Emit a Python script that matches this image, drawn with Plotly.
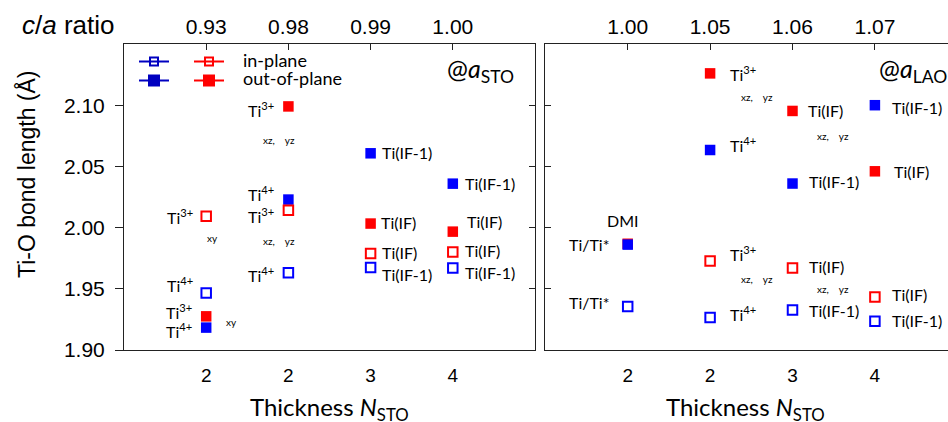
import plotly.graph_objects as go

# ---------------- data ----------------
positions = [1, 2, 3, 4]
thickness_labels = ['2', '2', '3', '4']
ca_sto_labels = ['0.93', '0.98', '0.99', '1.00']
ca_lao_labels = ['1.00', '1.05', '1.06', '1.07']
y_ticks = [1.90, 1.95, 2.00, 2.05, 2.10]

# @a_STO panel
sto_in_red = [2.0092, 2.0141, 1.9788, 1.9800]
sto_in_blue = [1.9466, 1.9632, 1.9673, 1.9670]
sto_out_red = [1.9275, 2.0990, 2.0033, 1.9967]
sto_out_blue = [1.9183, 2.0229, 2.0607, 2.0359]

# @a_LAO panel
lao_in_red = [None, 1.9727, 1.9670, 1.9433]
lao_in_blue = [1.9355, 1.9265, 1.9327, 1.9234]
lao_out_red = [1.9868, 2.1260, 2.0953, 2.0460]
lao_out_blue = [1.9861, 2.0634, 2.0360, 2.1000]

legend_names = ['in-plane', 'out-of-plane']

# labels: (position, y, text, anchor, pixel shift)
sto_labels = [
    (1, 2.0092, 'Ti<sup>3+</sup>', 'right', -11),
    (1, 1.9537, 'Ti<sup>4+</sup>', 'right', -11),
    (1, 1.9314, 'Ti<sup>3+</sup>', 'right', -12),
    (1, 1.9161, 'Ti<sup>4+</sup>', 'right', -12),
    (2, 2.0966, 'Ti<sup>3+</sup>', 'right', -12),
    (2, 2.0278, 'Ti<sup>4+</sup>', 'right', -12),
    (2, 2.0095, 'Ti<sup>3+</sup>', 'right', -12),
    (2, 1.9618, 'Ti<sup>4+</sup>', 'right', -12),
    (3, 2.0613, 'Ti(IF-1)', 'left', 9),
    (3, 2.0041, 'Ti(IF)', 'left', 8),
    (3, 1.9800, 'Ti(IF)', 'left', 9),
    (3, 1.9618, 'Ti(IF-1)', 'left', 9),
    (4, 2.0359, 'Ti(IF-1)', 'left', 10),
    (4, 2.0046, 'Ti(IF)', 'left', 12),
    (4, 1.9815, 'Ti(IF)', 'left', 10),
    (4, 1.9632, 'Ti(IF-1)', 'left', 10),
]
sto_orbitals = [
    (1, 1.9913, 'xy', 6),
    (1, 1.9229, 'xy', 25),
    (2, 2.0712, 'xz,&nbsp;&nbsp;&nbsp;&nbsp;yz', -9),
    (2, 1.9890, 'xz,&nbsp;&nbsp;&nbsp;&nbsp;yz', -9),
]
lao_labels = [
    (1, 2.0054, 'DMI', 'center', -5),
    (1, 1.9864, 'Ti/Ti*', 'right', -16),
    (1, 1.9387, 'Ti/Ti*', 'right', -16),
    (2, 2.1261, 'Ti<sup>3+</sup>', 'left', 18),
    (2, 2.0681, 'Ti<sup>4+</sup>', 'left', 18),
    (2, 1.9790, 'Ti<sup>3+</sup>', 'left', 18),
    (2, 1.9300, 'Ti<sup>4+</sup>', 'left', 18),
    (3, 2.0953, 'Ti(IF)', 'left', 13),
    (3, 2.0373, 'Ti(IF-1)', 'left', 14),
    (3, 1.9686, 'Ti(IF)', 'left', 14),
    (3, 1.9319, 'Ti(IF-1)', 'left', 14),
    (4, 2.0980, 'Ti(IF-1)', 'left', 15),
    (4, 2.0462, 'Ti(IF)', 'left', 17),
    (4, 1.9455, 'Ti(IF)', 'left', 15),
    (4, 1.9237, 'Ti(IF-1)', 'left', 15),
]
lao_orbitals = [
    (2, 2.1067, 'xz,&nbsp;&nbsp;&nbsp;&nbsp;yz', 47),
    (2, 1.9578, 'xz,&nbsp;&nbsp;&nbsp;&nbsp;yz', 47),
    (3, 2.0748, 'xz,&nbsp;&nbsp;&nbsp;&nbsp;yz', 40),
    (3, 1.9496, 'xz,&nbsp;&nbsp;&nbsp;&nbsp;yz', 40),
]

# ---------------- style ----------------
RED = '#ff0000'
BLUE = '#0000ff'
LEG_BLUE = '#0000c0'
ARIAL = 'Liberation Sans, Arial, sans-serif'
CAL = 'Lato, Carlito, Calibri, sans-serif'
W, H = 948, 422
ML, MT, MB = 124, 44, 72
PW = W - ML
PH = H - MT - MB
left_dom = [0, (535 - ML) / PW]
right_dom = [(545.3 - ML) / PW, 1]
right_max = (W - 545.3) / 82.4


def px_x(p):
    return (p - ML) / PW


def px_y(p):
    return (MT + PH - p) / PH


fig = go.Figure()


def open_sq(color):
    return dict(symbol='square-open', size=9.5, color=color, line=dict(color=color, width=2))


def filled_sq(color):
    return dict(symbol='square', size=10.5, color=color, line=dict(width=0))


panels = [
    ('x', 'y', sto_in_red, sto_in_blue, sto_out_red, sto_out_blue),
    ('x2', 'y2', lao_in_red, lao_in_blue, lao_out_red, lao_out_blue),
]
for xa, ya, ir, ib, orr, ob in panels:
    fig.add_trace(go.Scatter(x=positions, y=orr, mode='markers', marker=filled_sq(RED),
                             xaxis=xa, yaxis=ya, showlegend=False, cliponaxis=False))
    fig.add_trace(go.Scatter(x=positions, y=ob, mode='markers', marker=filled_sq(BLUE),
                             xaxis=xa, yaxis=ya, showlegend=False, cliponaxis=False))
    fig.add_trace(go.Scatter(x=positions, y=ir, mode='markers', marker=open_sq(RED),
                             xaxis=xa, yaxis=ya, showlegend=False, cliponaxis=False))
    fig.add_trace(go.Scatter(x=positions, y=ib, mode='markers', marker=open_sq(BLUE),
                             xaxis=xa, yaxis=ya, showlegend=False, cliponaxis=False))

# legend entries (legend-only traces); names are written as annotations beside them
for lg, col in (('legend', LEG_BLUE), ('legend2', RED)):
    fig.add_trace(go.Scatter(x=[None], y=[None], mode='lines+markers', name=' ',
                             line=dict(color=col, width=2),
                             marker=dict(symbol='square-open', size=8, color=col, line=dict(color=col, width=2)),
                             legend=lg))
    fig.add_trace(go.Scatter(x=[None], y=[None], mode='lines+markers', name=' ',
                             line=dict(color=col, width=2),
                             marker=dict(symbol='square', size=12, color=col),
                             legend=lg))

# helper traces so the extra frame axes exist
fig.add_trace(go.Scatter(x=[None], y=[None], xaxis='x3', yaxis='y', showlegend=False))
fig.add_trace(go.Scatter(x=[None], y=[None], xaxis='x4', yaxis='y2', showlegend=False))
fig.add_trace(go.Scatter(x=[None], y=[None], xaxis='x', yaxis='y3', showlegend=False))

annotations = []
for lst, xr, yr in [(sto_labels, 'x', 'y'), (lao_labels, 'x2', 'y2')]:
    for p, yv, txt, anc, sh in lst:
        annotations.append(dict(x=p, y=yv, xref=xr, yref=yr, text=txt, showarrow=False,
                                xanchor=anc, yanchor='middle', xshift=sh,
                                font=dict(family=CAL, size=16, color='black')))
for lst, xr, yr in [(sto_orbitals, 'x', 'y'), (lao_orbitals, 'x2', 'y2')]:
    for p, yv, txt, sh in lst:
        annotations.append(dict(x=p, y=yv, xref=xr, yref=yr, text=txt, showarrow=False,
                                xanchor='center', yanchor='middle', xshift=sh,
                                font=dict(family=CAL, size=10, color='black')))

# legend texts
for i, nm in enumerate(legend_names):
    annotations.append(dict(x=px_x(241), y=px_y(60 + 18 * i), xref='paper', yref='paper', text=nm,
                            showarrow=False, xanchor='left', yanchor='middle',
                            font=dict(family=CAL, size=18, color='black')))

# panel tags
annotations.append(dict(x=3.908, y=2.129, xref='x', yref='y', text='@<i>a</i><sub>STO</sub>',
                        showarrow=False, xanchor='left', yanchor='middle',
                        font=dict(family=CAL, size=25, color='black')))
annotations.append(dict(x=4.022, y=2.129, xref='x2', yref='y2', text='@<i>a</i><sub>LAO</sub>',
                        showarrow=False, xanchor='left', yanchor='middle',
                        font=dict(family=CAL, size=25, color='black')))

# axis titles
annotations.append(dict(x=px_x(26), y=px_y(174), xref='paper', yref='paper',
                        text='Ti-O bond length (Å)', textangle=-90, showarrow=False,
                        xanchor='center', yanchor='middle',
                        font=dict(family=ARIAL, size=23, color='black')))
for cx in (329, 745):
    annotations.append(dict(x=px_x(cx), y=px_y(408), xref='paper', yref='paper',
                            text='Thickness <i>N</i><sub>STO</sub>', showarrow=False,
                            xanchor='center', yanchor='middle',
                            font=dict(family=CAL, size=24, color='black')))
annotations.append(dict(x=px_x(68), y=px_y(25), xref='paper', yref='paper',
                        text='<i>c</i>/<i>a</i> ratio', showarrow=False,
                        xanchor='center', yanchor='middle',
                        font=dict(family=ARIAL, size=26, color='black')))

axis_common = dict(showgrid=False, zeroline=False, showline=True, linecolor='#222', linewidth=1)
tickfont = dict(family=ARIAL, size=21, color='black')
bottomfont = dict(family=ARIAL, size=19, color='black')

fig.update_layout(
    width=W, height=H,
    margin=dict(l=ML, r=0, t=MT, b=MB, pad=0),
    paper_bgcolor='white', plot_bgcolor='white',
    showlegend=True,
    xaxis=dict(domain=left_dom, range=[0, 5], anchor='y', tickmode='array', tickvals=positions,
               ticktext=thickness_labels, ticks='', tickfont=bottomfont,
               ticklabelstandoff=8, **axis_common),
    xaxis2=dict(domain=right_dom, range=[0, right_max], anchor='y2', tickmode='array', tickvals=positions,
                ticktext=thickness_labels, ticks='', tickfont=bottomfont,
                ticklabelstandoff=8, **axis_common),
    xaxis3=dict(overlaying='x', side='top', anchor='y', range=[0, 5], tickmode='array', tickvals=positions,
                ticktext=ca_sto_labels, ticks='inside', ticklen=6, tickcolor='#222', tickfont=tickfont,
                ticklabelstandoff=1, **axis_common),
    xaxis4=dict(overlaying='x2', side='top', anchor='y2', range=[0, right_max], tickmode='array',
                tickvals=positions, ticktext=ca_lao_labels, ticks='inside', ticklen=6, tickcolor='#222',
                tickfont=tickfont, ticklabelstandoff=1, **axis_common),
    yaxis=dict(domain=[0, 1], range=[1.90, 2.15], anchor='x', tickmode='array', tickvals=y_ticks,
               tickformat='.2f', ticks='outside', ticklen=8, tickcolor='#222', tickfont=tickfont,
               ticklabelstandoff=6, **axis_common),
    yaxis2=dict(domain=[0, 1], range=[1.90, 2.15], anchor='x2', tickmode='array', tickvals=y_ticks,
                ticks='inside', ticklen=6, tickcolor='#222', showticklabels=False, **axis_common),
    yaxis3=dict(overlaying='y', side='right', anchor='x', range=[1.90, 2.15], tickmode='array',
                tickvals=y_ticks, ticks='inside', ticklen=6, tickcolor='#222', showticklabels=False,
                **axis_common),
    legend=dict(x=px_x(134), y=px_y(47), xanchor='left', yanchor='top',
                bgcolor='rgba(0,0,0,0)', font=dict(family=CAL, size=10, color='black'),
                tracegroupgap=0, itemwidth=30),
    legend2=dict(x=px_x(189), y=px_y(47), xanchor='left', yanchor='top',
                 bgcolor='rgba(0,0,0,0)', font=dict(family=CAL, size=10, color='black'),
                 tracegroupgap=0, itemwidth=30),
    annotations=annotations,
)

fig.write_html('out.html', config={'displayModeBar': False},
               post_script="document.body.style.margin='0px';")
